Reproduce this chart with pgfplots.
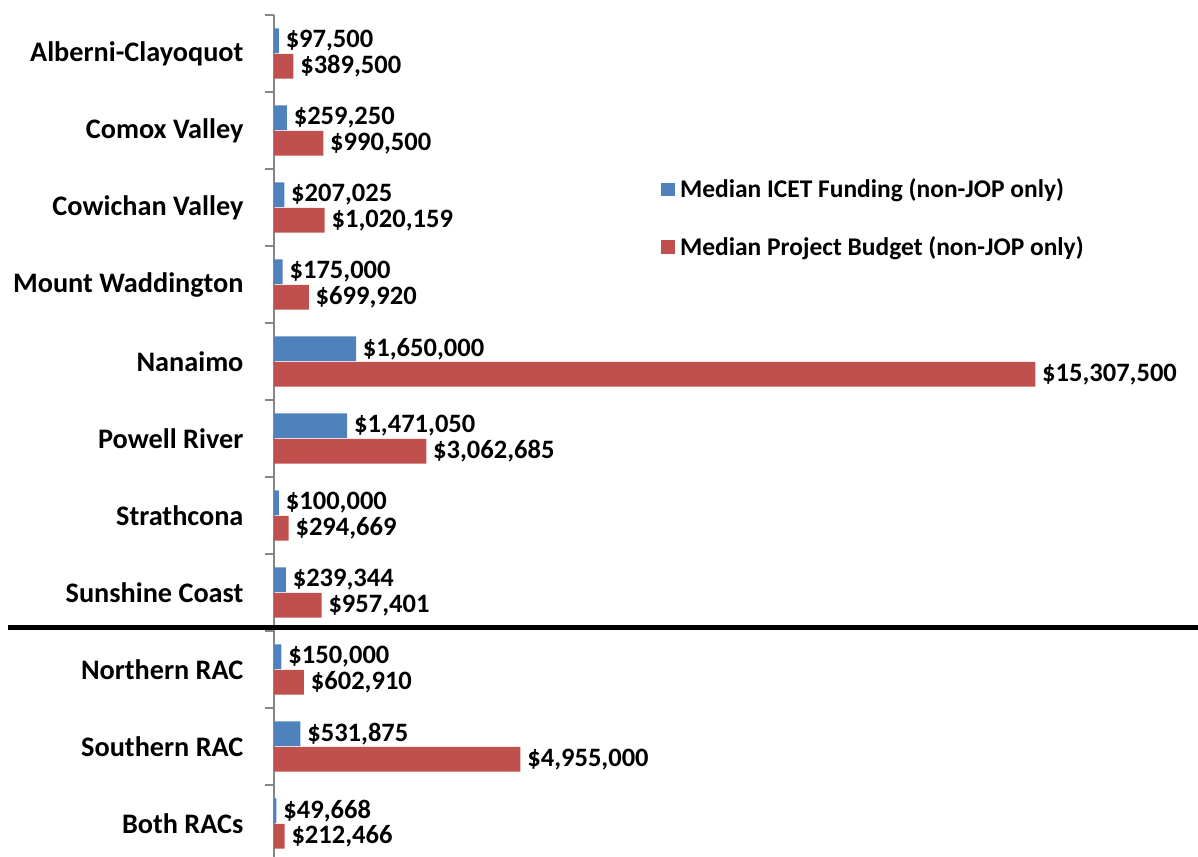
\documentclass[border=0pt]{standalone}
\usepackage{fontspec}
\setmainfont{Carlito}
\usepackage{pgfplots}
\usepackage{pgfplotstable}
\pgfplotsset{compat=1.18}
\definecolor{cblue}{HTML}{4F81BD}
\definecolor{cred}{HTML}{C0504D}
\definecolor{axgray}{HTML}{868686}

% values in millions of dollars
\pgfplotstableread{
y x lab
0 0.0975 97,500
1 0.25925 259,250
2 0.207025 207,025
3 0.175 175,000
4 1.65 1,650,000
5 1.47105 1,471,050
6 0.1 100,000
7 0.239344 239,344
8 0.15 150,000
9 0.531875 531,875
10 0.049668 49,668
}\icet

\pgfplotstableread{
y x lab
0 0.3895 389,500
1 0.9905 990,500
2 1.020159 1,020,159
3 0.69992 699,920
4 15.3075 15,307,500
5 3.062685 3,062,685
6 0.294669 294,669
7 0.957401 957,401
8 0.60291 602,910
9 4.955 4,955,000
10 0.212466 212,466
}\budget

\newcommand{\catfont}{\bfseries\fontsize{21.2}{25}\selectfont}
\newcommand{\valfont}{\bfseries\fontsize{19.9}{23}\selectfont}
\newcommand{\legfont}{\bfseries\fontsize{19.1}{23}\selectfont}

\begin{document}
\begin{tikzpicture}
\useasboundingbox (0pt,0pt) rectangle (898.5pt,-642pt);
\begin{axis}[
  at={(205.5pt,-11.25pt)}, anchor=north west,
  scale only axis, width=690pt, height=635.25pt,
  xbar, xmin=0, xmax=18.5,
  ymin=-0.5, ymax=10.5, y dir=reverse,
  axis x line=none,
  axis y line*=left,
  y axis line style={axgray, line width=1.8pt, -},
  ytick={0,...,10},
  yticklabels={Alberni-Clayoquot, Comox Valley, Cowichan Valley, Mount Waddington, Nanaimo, Powell River, Strathcona, Sunshine Coast, Northern RAC, Southern RAC, Both RACs},
  ytick pos=left,
  tick align=outside,
  major tick length=0pt,
  minor ytick={-0.5,0.5,...,10.5},
  minor tick length=6.5pt,
  minor tick style={axgray, line width=1.8pt},
  yticklabel style={font=\catfont, anchor=east, inner sep=0pt, xshift=-22.75pt},
  bar width=0.32,
  point meta=explicit symbolic,
  nodes near coords={\$\pgfplotspointmeta},
  nodes near coords align=horizontal,
  every node near coord/.append style={font=\valfont, text=black, anchor=west, inner sep=0pt, xshift=5pt},
  clip=false,
  legend style={draw=none, fill=none, font=\legfont, at={(axis description cs:0.4165,0.813)}, anchor=north west, row sep=23.5pt},
  legend cell align=left,
]
\addplot[fill=cblue, draw=none, bar shift=-0.165,
  legend image code/.code={\fill[cblue] (0pt,-4.9pt) rectangle (9.8pt,4.9pt); \path (12pt,0pt);}]
  table[x=x, y=y, meta=lab] {\icet};
\addlegendentry{Median ICET Funding (non-JOP only)}
\addplot[fill=cred, draw=none, bar shift=0.165,
  legend image code/.code={\fill[cred] (0pt,-4.9pt) rectangle (9.8pt,4.9pt); \path (12pt,0pt);}]
  table[x=x, y=y, meta=lab] {\budget};
\addlegendentry{Median Project Budget (non-JOP only)}
\draw[black, line width=3.75pt] (axis cs:-5.35,7.45) -- (axis cs:18.6,7.45);
\end{axis}
\end{tikzpicture}
\end{document}
